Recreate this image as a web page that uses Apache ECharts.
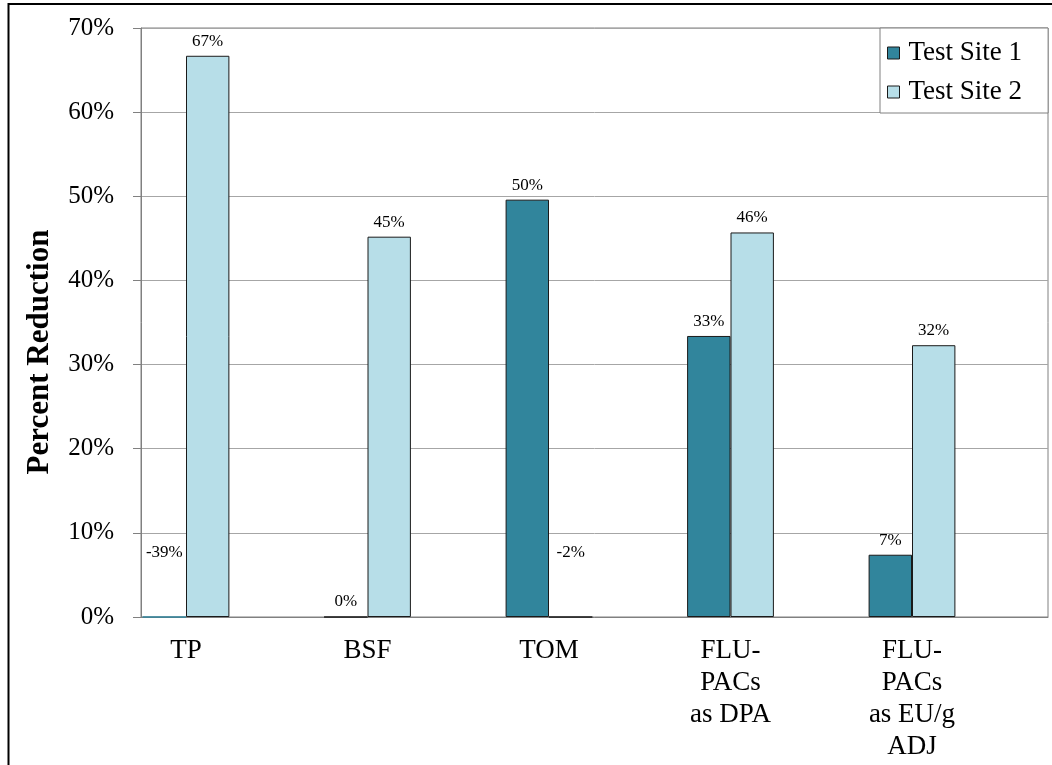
<!DOCTYPE html>
<html>
<head>
<meta charset="utf-8">
<script src="https://cdn.jsdelivr.net/npm/echarts@6/dist/echarts.min.js"></script>
<style>
  html, body { margin: 0; padding: 0; background: #fff; }
  #chart { width: 1052px; height: 765px; }
</style>
</head>
<body>
<div id="chart"></div>
<script>
// Percent reduction by parameter at the two test sites
const categories = ['TP', 'BSF', 'TOM', 'FLU-\nPACs\nas DPA', 'FLU-\nPACs\nas EU/g\nADJ'];
const seriesNames = ['Test Site 1', 'Test Site 2'];
const site1Values = [-0.39, 0.0, 0.496, 0.334, 0.074];
const site2Values = [0.667, 0.452, -0.02, 0.457, 0.323];
const yTicks = { min: 0, max: 0.7, step: 0.1 };

const FONT = "'Liberation Serif', 'Times New Roman', serif";
const colors = ['#31859C', '#B7DEE8'];
const BAR_W = 43.4;

const pct = v => Math.round(v * 100) + '%';

function barSeries(name, values, color) {
  return {
    name: name,
    type: 'bar',
    xAxisIndex: 1,
    yAxisIndex: 1,
    data: values,
    barWidth: BAR_W,
    barGap: '0%',
    itemStyle: { color: color, borderColor: '#1a1a1a', borderWidth: 1 },
    label: {
      show: true,
      position: 'top',
      distance: 6,
      formatter: p => pct(p.value),
      fontFamily: FONT,
      fontSize: 17,
      color: '#000'
    }
  };
}

// Values below the axis floor: flat marker on the floor plus the value label
function floorSeries(name, values, color, side) {
  const data = [];
  values.forEach((v, i) => {
    if (v < yTicks.min) data.push([i, Math.max(v, yTicks.min), v]);
  });
  return {
    name: name,
    type: 'scatter',
    xAxisIndex: 1,
    yAxisIndex: 1,
    data: data,
    symbol: 'rect',
    symbolSize: [BAR_W, 1.5],
    symbolOffset: [side * BAR_W / 2, 0],
    itemStyle: { color: color, opacity: 1 },
    label: {
      show: true,
      position: 'inside',
      offset: [0, -64],
      formatter: p => pct(p.value[2]),
      fontFamily: FONT,
      fontSize: 17,
      color: '#000'
    },
    z: 3
  };
}

const chart = echarts.init(document.getElementById('chart'), null, { renderer: 'canvas' });

chart.setOption({
  backgroundColor: '#ffffff',
  animation: false,
  grid: [
    // plot frame with value axis and gridlines
    { left: 141, top: 28, right: 4, bottom: 148, show: true, borderColor: '#808080', borderWidth: 1, backgroundColor: 'transparent' },
    // category band for the bars
    { left: 95.25, top: 28, width: 907.5, bottom: 148 }
  ],
  xAxis: [
    {
      gridIndex: 0, type: 'category', data: [''],
      axisLine: { show: true, lineStyle: { color: '#808080', width: 1 } },
      axisTick: { show: false }, axisLabel: { show: false }, splitLine: { show: false }
    },
    {
      gridIndex: 1, type: 'category', data: categories,
      axisLine: { show: false }, axisTick: { show: false },
      axisLabel: {
        interval: 0, margin: 18,
        fontFamily: FONT, fontSize: 27, lineHeight: 32, color: '#000', align: 'center'
      }
    }
  ],
  yAxis: [
    {
      gridIndex: 0, type: 'value',
      min: yTicks.min, max: yTicks.max, interval: yTicks.step,
      axisLine: { show: true, lineStyle: { color: '#808080', width: 1 } },
      axisTick: { show: true, length: 8, inside: false, lineStyle: { color: '#808080' } },
      axisLabel: { margin: 27, formatter: v => pct(v), fontFamily: FONT, fontSize: 25, color: '#000' },
      splitLine: { show: true, lineStyle: { color: '#a6a6a6', width: 1 } }
    },
    {
      gridIndex: 1, type: 'value',
      min: yTicks.min, max: yTicks.max, interval: yTicks.step,
      show: false, splitLine: { show: false }
    }
  ],
  legend: {
    data: seriesNames,
    orient: 'vertical',
    left: 880, top: 28,
    padding: [10, 26, 6, 7],
    itemGap: 9,
    itemWidth: 12, itemHeight: 12,
    icon: 'rect',
    backgroundColor: '#ffffff',
    borderColor: '#808080', borderWidth: 1,
    itemStyle: { borderColor: '#1a1a1a', borderWidth: 1 },
    textStyle: { fontFamily: FONT, fontSize: 27, lineHeight: 30, color: '#000', padding: [0, 0, 0, 4] }
  },
  graphic: [
    {
      type: 'text',
      x: 40, y: 352,
      rotation: Math.PI / 2,
      style: {
        text: 'Percent Reduction',
        font: "bold 31px 'Liberation Serif', 'Times New Roman', serif",
        fill: '#000', align: 'center', verticalAlign: 'middle'
      }
    },
    {
      type: 'rect',
      shape: { x: 8.5, y: 4, width: 2000, height: 2000 },
      style: { fill: 'none', stroke: '#000', lineWidth: 2 },
      silent: true
    }
  ],
  series: [
    barSeries(seriesNames[0], site1Values, colors[0]),
    barSeries(seriesNames[1], site2Values, colors[1]),
    floorSeries(seriesNames[0], site1Values, colors[0], -1),
    floorSeries(seriesNames[1], site2Values, '#1a1a1a', 1)
  ]
});
</script>
</body>
</html>
